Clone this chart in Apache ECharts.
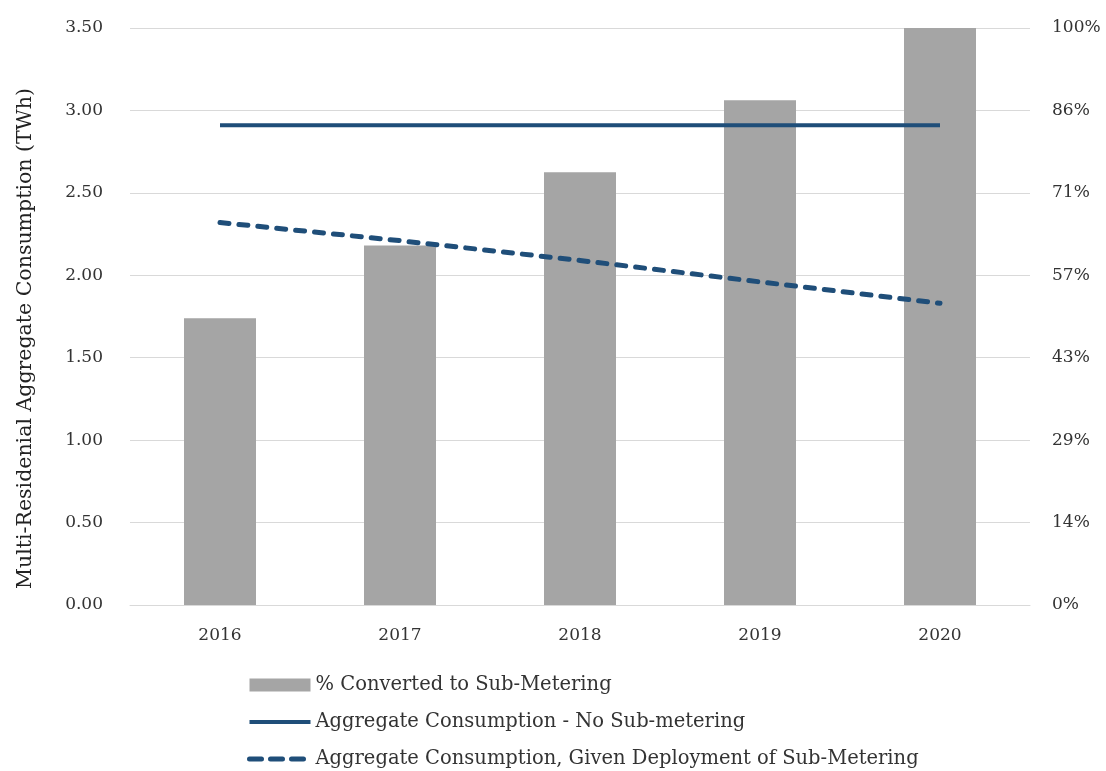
<!DOCTYPE html>
<html><head><meta charset="utf-8">
<script src="https://cdn.jsdelivr.net/npm/echarts@6/dist/echarts.min.js"></script>
<style>html,body{margin:0;padding:0;background:#fff}#c{width:1106px;height:771px}</style>
</head><body><div id="c"></div>
<script>
const years = ['2016','2017','2018','2019','2020'];
const pctConverted = [49.7, 62.3, 75.0, 87.5, 100];
const noSubMetering = [2.91, 2.91, 2.91, 2.91, 2.91];
const withSubMetering = [2.32, 2.21, 2.09, 1.96, 1.83];
const leftTicks = ['0.00','0.50','1.00','1.50','2.00','2.50','3.00','3.50'];
const rightTicks = ['0%','14%','29%','43%','57%','71%','86%','100%'];
const names = ['% Converted to Sub-Metering','Aggregate Consumption - No Sub-metering','Aggregate Consumption, Given Deployment of Sub-Metering'];

const font = '"DejaVu Serif", "Liberation Serif", serif';
const chart = echarts.init(document.getElementById('c'));
chart.setOption({
  animation: false,
  grid: {left: 130, right: 76, top: 28, bottom: 166},
  legend: {
    orient: 'vertical', left: 247, top: 674, height: 97, padding: 0,
    itemWidth: 61, itemHeight: 13, itemGap: 15,
    textStyle: {fontFamily: font, fontSize: 19.5, color: '#333', lineHeight: 22},
    data: [
      {name: names[0], icon: 'rect'},
      {name: names[1], itemStyle: {opacity: 0}, lineStyle: {width: 4}},
      {name: names[2], itemStyle: {opacity: 0}, lineStyle: {width: 5, type: [12, 9], cap: 'round'}}
    ]
  },
  xAxis: {
    type: 'category', data: years,
    axisLine: {show: true, lineStyle: {color: '#d9d9d9'}},
    axisTick: {show: false},
    axisLabel: {fontFamily: font, fontSize: 17, color: '#333', margin: 22}
  },
  yAxis: [{
    type: 'value', min: 0, max: 3.5, interval: 0.5,
    name: 'Multi-Residenial Aggregate Consumption (TWh)', nameLocation: 'middle', nameGap: 94,
    nameTextStyle: {fontFamily: font, fontSize: 20.5, color: '#222', padding: [0, 44, 0, 0]},
    axisLine: {show: false}, axisTick: {show: false},
    splitLine: {lineStyle: {color: '#d9d9d9'}},
    axisLabel: {fontFamily: font, fontSize: 17, color: '#333', margin: 27,
      formatter: (v) => leftTicks[Math.round(v / 0.5)]}
  }, {
    type: 'value', min: 0, max: 100, interval: 100 / 7, position: 'right',
    axisLine: {show: false}, axisTick: {show: false}, splitLine: {show: false},
    axisLabel: {fontFamily: font, fontSize: 17, color: '#333', margin: 22,
      formatter: (v) => rightTicks[Math.round(v / (100 / 7))]}
  }],
  series: [{
    name: names[0], type: 'bar', yAxisIndex: 1, data: pctConverted,
    barWidth: 72, itemStyle: {color: '#a5a5a5'}
  }, {
    name: names[1], type: 'line', yAxisIndex: 0, data: noSubMetering,
    symbol: 'none', lineStyle: {color: '#1f4e79', width: 4}, itemStyle: {color: '#1f4e79'}
  }, {
    name: names[2], type: 'line', yAxisIndex: 0, data: withSubMetering,
    symbol: 'none', lineStyle: {color: '#1f4e79', width: 5, type: [9, 10], cap: 'round'}, itemStyle: {color: '#1f4e79'}
  }]
});
</script></body></html>
